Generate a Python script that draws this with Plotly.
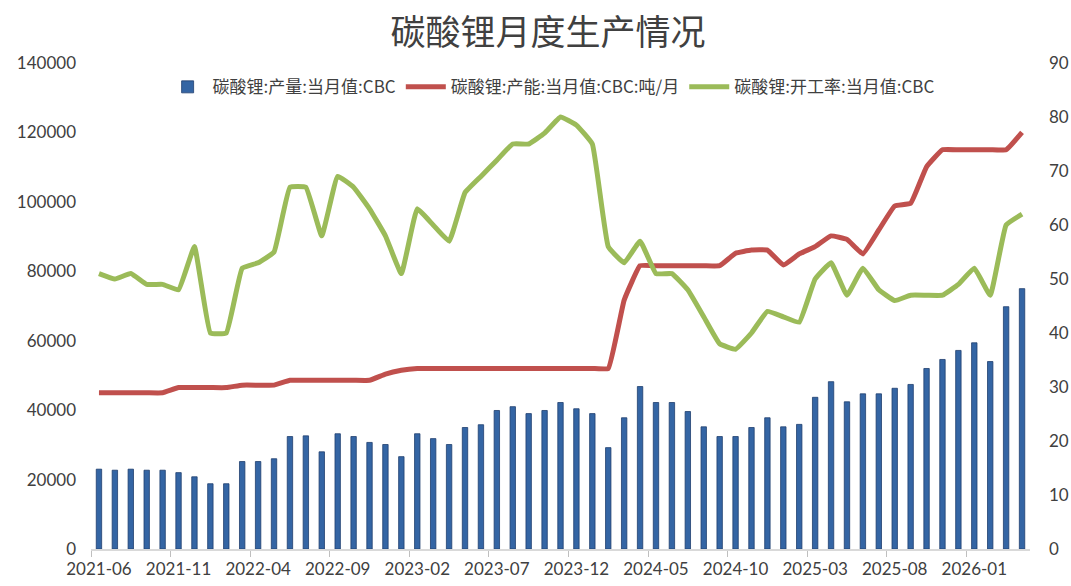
import plotly.graph_objects as go
import pandas as pd

months = [d.strftime("%Y-%m") for d in pd.date_range("2021-06-01", "2026-04-01", freq="MS")]

production = [23000, 22700, 23000, 22700, 22700, 22000, 20800, 18800, 18800, 25200,
              25200, 26000, 32400, 32600, 28000, 33200, 32400, 30700, 30100, 26600,
              33200, 31800, 30100, 35000, 35800, 39900, 41000, 39000, 39900, 42200,
              40400, 39000, 29200, 37800, 46800, 42200, 42200, 39600, 35200, 32400,
              32400, 35000, 37800, 35200, 35900, 43700, 48200, 42400, 44700, 44700,
              46300, 47400, 52000, 54600, 57200, 59400, 54000, 69800, 75000]

capacity = [45000, 45000, 45000, 45000, 45000, 46500, 46500, 46500, 46500, 47200,
            47200, 47200, 48600, 48600, 48600, 48600, 48600, 48600, 50400, 51500,
            52000, 52000, 52000, 52000, 52000, 52000, 52000, 52000, 52000, 52000,
            52000, 52000, 52000, 71700, 81600, 81600, 81600, 81600, 81600, 81600,
            85200, 86100, 86100, 81800, 85000, 87100, 90200, 89200, 85000, 91900,
            98800, 99600, 110100, 115000, 115000, 115000, 115000, 115000, 120000]

utilization = [51, 50, 51, 49, 49, 48, 56, 40, 40, 52,
               53, 55, 67, 67, 58, 69, 67, 63, 58, 51,
               63, 60, 57, 66, 69, 72, 75, 75, 77, 80,
               78.5, 75, 56, 53, 57, 51, 51, 48, 43, 38,
               37, 40, 44, 43, 42, 50, 53, 47, 52, 48,
               46, 47, 47, 47, 49, 52, 47, 60, 62]

name_prod = "碳酸锂:产量:当月值:CBC"
name_cap = "碳酸锂:产能:当月值:CBC:吨/月"
name_util = "碳酸锂:开工率:当月值:CBC"

NUM = "Lato, 'Noto Sans CJK SC', sans-serif"
CJK = "'Noto Sans CJK SC', sans-serif"

fig = go.Figure()
fig.add_trace(go.Bar(
    x=months, y=production, name=name_prod,
    marker=dict(color="#3465a4", line=dict(color="#1f3f6e", width=0.8)),
    yaxis="y",
))
fig.add_trace(go.Scatter(
    x=months, y=capacity, name=name_cap, mode="lines",
    line=dict(color="#c0504d", width=5, shape="spline", smoothing=0.3),
    yaxis="y",
))
fig.add_trace(go.Scatter(
    x=months, y=utilization, name=name_util, mode="lines",
    line=dict(color="#9bbb59", width=5, shape="spline", smoothing=0.3),
    yaxis="y2",
))

fig.update_layout(
    width=1071, height=586,
    paper_bgcolor="white", plot_bgcolor="white",
    margin=dict(l=91, r=41, t=63, b=37, autoexpand=False),
    font=dict(family=NUM, size=15, color="#595959"),
    title=dict(text="碳酸锂月度生产情况", x=548/1071, xref="container", xanchor="center",
               y=1 - 33/586, yref="container", yanchor="middle",
               font=dict(size=35, color="#404040", family=CJK)),
    bargap=0.66,
    showlegend=True,
    legend=dict(orientation="h", x=0.49, xanchor="center", y=0.95, yanchor="middle",
                bgcolor="rgba(0,0,0,0)",
                font=dict(size=17, color="#404040", family=CJK),
                itemwidth=40, tracegroupgap=0),
    xaxis=dict(type="category", range=[-0.5, 58.5], tickmode="linear", tick0=0, dtick=5,
               tickson="boundaries", ticks="outside", ticklen=6, tickcolor="#bfbfbf",
               showline=True, linecolor="#d9d9d9", linewidth=1.5, showgrid=False,
               tickangle=0, automargin=False,
               tickfont=dict(size=17, color="#404040"), ticklabelstandoff=4),
    yaxis=dict(range=[0, 140000], dtick=20000, tickformat="d", showgrid=False,
               zeroline=False, showline=False, ticklabelstandoff=14, automargin=False,
               tickfont=dict(size=17, color="#404040")),
    yaxis2=dict(range=[0, 90], dtick=10, overlaying="y", side="right", showgrid=False,
                zeroline=False, showline=False, ticklabelstandoff=18, automargin=False,
                tickfont=dict(size=17, color="#404040")),
)

fig.write_html("out.html", config={"displayModeBar": False},
               post_script="document.body.style.margin='0';document.body.style.padding='0';")
